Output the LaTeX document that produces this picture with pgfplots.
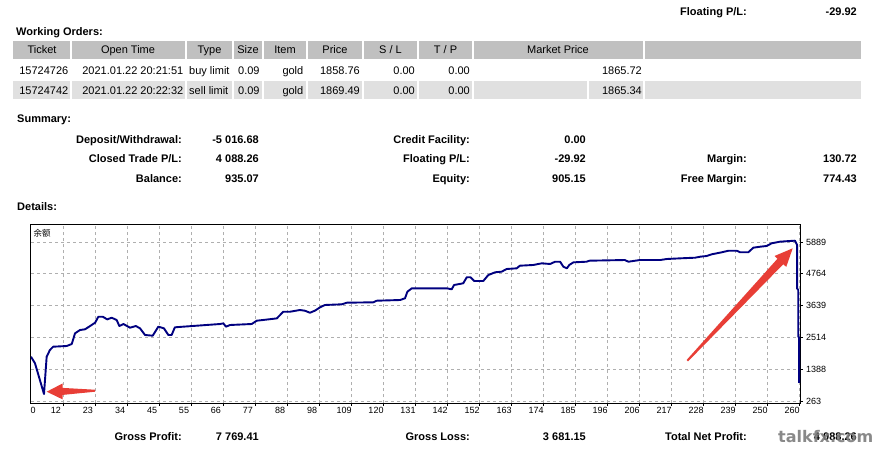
\documentclass[border=0pt]{standalone}
\usepackage{fontspec}
\setmainfont{Liberation Sans}
\newfontfamily\cjk{Noto Sans CJK SC}
\newfontfamily\wmfont{DejaVu Sans}
\usepackage{pgfplots}
\pgfplotsset{compat=1.18}

\definecolor{hdr}{RGB}{192,192,192}
\definecolor{alt}{RGB}{224,224,224}
\definecolor{curve}{RGB}{0,0,128}
\definecolor{gridc}{RGB}{175,175,175}
\definecolor{arrowred}{RGB}{232,62,54}
\definecolor{wm}{RGB}{125,125,125}

\begin{document}
\begin{tikzpicture}
\path[use as bounding box, fill=white] (0pt,0pt) rectangle (877pt,-451pt);

% report text, in pixel coordinates (y down)
\begin{scope}[x=1pt, y=-1pt,
  every node/.style={inner sep=0pt, font=\fontsize{11}{13}\selectfont},
  b/.style={font=\fontsize{11}{13}\selectfont\bfseries}]

\node[b, anchor=base east] at (747,15.7) {Floating P/L:};
\node[b, anchor=base east] at (857,15.7) {-29.92};

\node[b, anchor=base west] at (16,35.5) {Working Orders:};

% working orders table
\fill[hdr] (13,40.5) rectangle (861,58.5);
\fill[alt] (13,80.5) rectangle (861,99);
\foreach \c in {71,186,233,263,307,363,418,473,644}
  \fill[white] (\c-1,40) rectangle (\c+1,99.5);
\fill[white] (587,80.5) rectangle (589,99);

\node[anchor=base] at (42,53.5) {Ticket};
\node[anchor=base] at (128,53.5) {Open Time};
\node[anchor=base] at (209.5,53.5) {Type};
\node[anchor=base] at (248,53.5) {Size};
\node[anchor=base] at (285,53.5) {Item};
\node[anchor=base] at (335,53.5) {Price};
\node[anchor=base] at (390.5,53.5) {S / L};
\node[anchor=base] at (445.5,53.5) {T / P};
\node[anchor=base] at (558,53.5) {Market Price};

\node[anchor=base east] at (68.5,74) {15724726};
\node[anchor=base east] at (183.5,74) {2021.01.22 20:21:51};
\node[anchor=base west] at (189,74) {buy limit};
\node[anchor=base west] at (238,74) {0.09};
\node[anchor=base east] at (303.5,74) {gold};
\node[anchor=base east] at (360,74) {1858.76};
\node[anchor=base east] at (415,74) {0.00};
\node[anchor=base east] at (470,74) {0.00};
\node[anchor=base east] at (642,74) {1865.72};

\node[anchor=base east] at (68.5,94) {15724742};
\node[anchor=base east] at (183.5,94) {2021.01.22 20:22:32};
\node[anchor=base west] at (189,94) {sell limit};
\node[anchor=base west] at (238,94) {0.09};
\node[anchor=base east] at (303.5,94) {gold};
\node[anchor=base east] at (360,94) {1869.49};
\node[anchor=base east] at (415,94) {0.00};
\node[anchor=base east] at (470,94) {0.00};
\node[anchor=base east] at (642,94) {1865.34};

% summary
\node[b, anchor=base west] at (17,122) {Summary:};
\node[b, anchor=base east] at (182,143) {Deposit/Withdrawal:};
\node[b, anchor=base east] at (259,143) {-5 016.68};
\node[b, anchor=base east] at (470,143) {Credit Facility:};
\node[b, anchor=base east] at (586,143) {0.00};
\node[b, anchor=base east] at (182,162.3) {Closed Trade P/L:};
\node[b, anchor=base east] at (259,162.3) {4 088.26};
\node[b, anchor=base east] at (470,162.3) {Floating P/L:};
\node[b, anchor=base east] at (586,162.3) {-29.92};
\node[b, anchor=base east] at (747,162.3) {Margin:};
\node[b, anchor=base east] at (857,162.3) {130.72};
\node[b, anchor=base east] at (182,182.3) {Balance:};
\node[b, anchor=base east] at (259,182.3) {935.07};
\node[b, anchor=base east] at (470,182.3) {Equity:};
\node[b, anchor=base east] at (586,182.3) {905.15};
\node[b, anchor=base east] at (747,182.3) {Free Margin:};
\node[b, anchor=base east] at (857,182.3) {774.43};

\node[b, anchor=base west] at (17,210.7) {Details:};

% bottom line
\node[b, anchor=base east] at (182,440.7) {Gross Profit:};
\node[b, anchor=base east] at (259,440.7) {7 769.41};
\node[b, anchor=base east] at (470,440.7) {Gross Loss:};
\node[b, anchor=base east] at (586,440.7) {3 681.15};
\node[b, anchor=base east] at (747,440.7) {Total Net Profit:};
\node[b, anchor=base east] at (857,440.7) {4 088.26};
\end{scope}

\begin{axis}[
  at={(31pt,-403pt)}, anchor=south west,
  scale only axis, width=769pt, height=179pt,
  xmin=0, xmax=260.3, ymin=192, ymax=6525,
  axis background/.style={fill=white},
  axis line style={black, line width=1pt},
  xtick={10.83,21.66,32.50,43.33,54.16,64.99,75.82,86.66,97.49,108.32,119.15,129.98,
         140.82,151.65,162.48,173.31,184.14,194.98,205.81,216.64,227.47,238.30,249.14,259.97},
  xticklabels={},
  extra x ticks={0.68,8.46,19.29,30.13,40.96,51.79,62.62,73.45,84.29,95.12,105.95,116.78,
         127.61,138.45,149.28,160.11,170.94,181.77,192.61,203.44,214.27,225.10,235.93,246.77,257.60},
  extra x tick labels={0,12,23,34,45,55,66,77,88,98,109,120,131,142,152,163,174,185,196,
         206,217,228,239,250,260},
  extra x tick style={grid=none, major tick length=0pt},
  ytick={263,1388,2514,3639,4764,5889},
  yticklabels={263,1388,2514,3639,4764,5889},
  xtick pos=left, ytick pos=right, yticklabel pos=right,
  tick align=outside, major tick length=3pt,
  tick style={black, line width=0.6pt},
  grid=major,
  major grid style={gridc, dash pattern=on 3pt off 3pt, line width=0.6pt},
  ticklabel style={font=\fontsize{9}{10}\selectfont},
  /pgf/number format/assume math mode=true,
  xticklabel style={inner sep=0pt, yshift=-4pt},
  yticklabel style={anchor=west, inner sep=0pt, xshift=3pt},
]
\addplot[curve, line width=1.9pt, line join=round] coordinates {
(0,1830)(1.35,1597)(4.4,511)(5.3,1830)(6.4,2067)(7.5,2184)(12.1,2209)(13.8,2280)
(14.9,2658)(16.6,2775)(18.3,2800)(20.0,2916)(21.7,3033)(22.8,3245)(24.3,3245)
(25.8,3150)(27.3,3210)(29.0,3129)(29.9,2916)(31.3,2987)(33.5,2856)(35.5,2916)
(36.9,2834)(38.6,2598)(41.2,2574)(43.1,2893)(45.0,2834)(46.5,2598)(47.6,2598)
(48.7,2870)(51.6,2893)(64.0,2987)(65.1,3010)(66.0,2893)(67.4,2952)(74.7,2987)
(76.4,3104)(80.3,3150)(83.2,3186)(85.4,3422)(87.7,3422)(91.0,3482)(92.7,3458)
(94.4,3386)(96.1,3458)(97.8,3575)(99.5,3660)(105.2,3684)(106.9,3741)(115.9,3755)
(117.0,3811)(124.9,3836)(126.6,3896)(127.4,4130)(128.9,4250)(140.7,4250)
(142.4,4215)(143.2,4367)(146.3,4427)(147.5,4640)(148.8,4640)(150.0,4509)
(153.1,4509)(154.8,4721)(157.1,4817)(159.3,4838)(161.0,4933)(164.4,4957)
(165.5,5050)(170.0,5075)(172.9,5134)(175.7,5110)(177.4,5191)(179.1,5191)
(180.2,5014)(181.4,4957)(182.2,5075)(183.6,5169)(188.0,5191)(189.1,5227)
(201.0,5251)(202.2,5191)(206.1,5251)(213.0,5251)(215.2,5287)(219.7,5310)
(224.8,5333)(226.5,5368)(228.7,5393)(230.4,5453)(233.8,5524)(236.1,5580)
(238.9,5580)(240.0,5524)(242.8,5524)(244.5,5687)(246.8,5722)(249.0,5747)
(250.7,5842)(253.5,5899)(256.9,5924)(258.6,5935)(259.3,5782)(259.3,4250)
(259.7,4190)(259.7,2540)(260.0,2510)(260.0,905)
};
\end{axis}

% annotations over the chart
\begin{scope}[x=1pt, y=-1pt]
\node[inner sep=0pt, anchor=west, font=\cjk\fontsize{8.5}{9}\selectfont] at (33.5,233.5) {余额};
\fill[arrowred] (95,389.7) -- (62.7,387.9) -- (62.7,383.4) -- (46.7,391.7)
  -- (62.7,399.4) -- (62.7,394.9) -- (95,391.7) -- cycle;
\fill[arrowred] (686.57,360.02) -- (777.47,258.70) -- (774.55,255.97) -- (792.7,248.3)
  -- (786.23,266.91) -- (783.31,264.18) -- (688.03,361.38) -- cycle;
\node[inner sep=0pt, anchor=base west, text=wm, opacity=0.9,
  font=\wmfont\fontsize{16}{18}\selectfont\bfseries] at (778,442) {talkfx.com};
\end{scope}
\end{tikzpicture}
\end{document}
